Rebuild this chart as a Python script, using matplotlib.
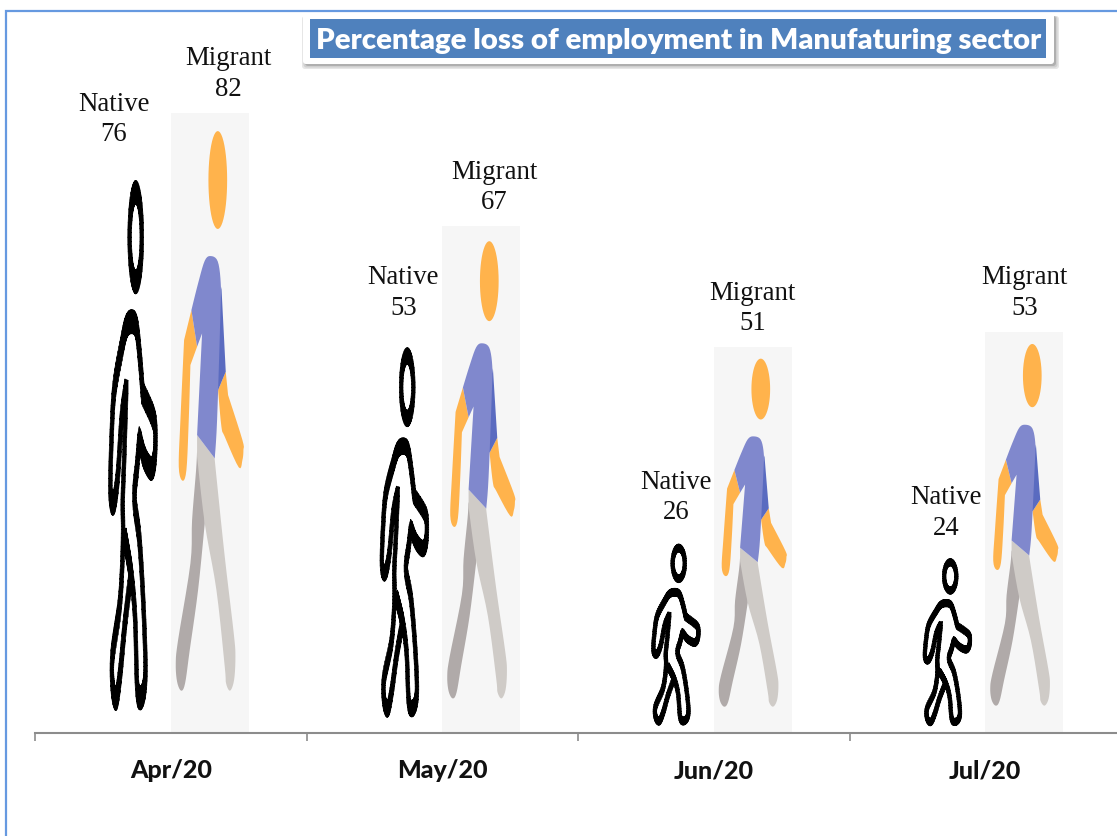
import numpy as np
import matplotlib
matplotlib.use("Agg")
import matplotlib.pyplot as plt
from matplotlib.path import Path
from matplotlib.patches import PathPatch, Rectangle, FancyBboxPatch

# ---- data ----
months = ["Apr/20", "May/20", "Jun/20", "Jul/20"]
native = [76, 53, 26, 24]
migrant = [82, 67, 51, 53]
native_label_dx = [-18, 0, 1, 0]
migrant_label_dx = [19, 13, 0, 0]
title = "Percentage loss of employment in Manufaturing sector"

# ---- figure ----
W, H = 1117, 836
fig = plt.figure(figsize=(W / 100, H / 100), dpi=100, facecolor="white")
base_px, left_px, group_px = 733, 35, 271.5
ax = fig.add_axes([left_px / W, (H - base_px) / H, 4 * group_px / W, base_px / H])
ax.patch.set_alpha(0)
ax.set_xlim(-0.5, 3.5)
ax.set_ylim(0, base_px / 7.56)
for s in ["top", "left", "right"]:
    ax.spines[s].set_visible(False)
ax.spines["bottom"].set_color("#8c8c8c")
ax.spines["bottom"].set_linewidth(1.5)
ax.set_yticks([])
ax.set_xticks(np.arange(len(months)))
ax.set_xticklabels(months, fontfamily="Lato", fontweight="black", fontsize=18, color="#111111")
ax.tick_params(axis="x", which="major", length=0, pad=19)
ax.set_xticks(np.arange(len(months) + 1) - 0.5, minor=True)
ax.tick_params(axis="x", which="minor", length=6, width=1.2, color="#8c8c8c")

bar_w = 78 / group_px


# ---- pictogram templates, in unit space of one bar (u across, v up) ----
def nat(zx, zy):
    # traced on a grid where the bar spans 234 x 591
    return ((zx + 15) / 234, (609 - zy) / 591)


def mig(zx, zy):
    # traced on a grid where the bar spans 234 x 1860
    return ((zx - 243) / 234, (1899 - zy) / 1860)


# a repeated point is a sharp corner of the smoothed outline
NATIVE_BODY = [nat(*p) for p in [
    (100, 186), (116, 192), (127, 225), (135, 260), (135, 260), (168, 286), (173, 306), (170, 328), (160, 337),
    (140, 326), (125, 306), (125, 306), (118, 335), (110, 368), (125, 410), (136, 470), (143, 535),
    (140, 562), (128, 573), (118, 560), (112, 490), (100, 445), (80, 405), (80, 405),
    (100, 445), (100, 445), (82, 495), (68, 545), (56, 573), (45, 562), (44, 530), (65, 480), (73, 440), (76, 400),
    (75, 370), (80, 320), (86, 252), (86, 252), (72, 285), (60, 345), (48, 372), (38, 360), (42, 300), (50, 255),
    (72, 212), (85, 192),
]]
NATIVE_HEAD = (0.551, 0.863, 0.078, 0.078)
STROKE = (0.024, 0.021)

MIG_HEAD = (0.603, 0.892, 0.120, 0.079)
ARM_L = [mig(*p) for p in [(305, 630), (305, 630), (283, 720), (283, 720), (272, 960), (267, 1100), (278, 1142),
                           (290, 1110), (297, 960), (302, 795), (302, 795), (322, 740), (322, 740)]]
ARM_R = [mig(*p) for p in [(408, 815), (408, 815), (385, 870), (385, 870), (395, 980), (405, 1010), (447, 1102),
                           (458, 1080), (461, 1050), (458, 1020), (415, 885), (415, 885)]]
TORSO_BACK = [mig(*p) for p in [(395, 560), (408, 815), (385, 870), (360, 800)]]
TORSO = [mig(*p) for p in [(363, 468), (345, 482), (325, 550), (305, 630), (305, 630), (322, 740), (322, 740),
                           (337, 700), (337, 700), (322, 1005), (322, 1005), (375, 1075), (375, 1075),
                           (382, 960), (392, 640), (393, 550), (384, 484)]]
LEG_BACK = [mig(*p) for p in [(322, 1050), (322, 1050), (319, 1110), (307, 1260), (302, 1390), (265, 1620), (258, 1690),
                              (262, 1745), (274, 1772), (286, 1750), (300, 1650), (325, 1470),
                              (345, 1270), (345, 1270), (345, 1180), (345, 1180)]]
LEG_FRONT = [mig(*p) for p in [(322, 1005), (322, 1005), (375, 1075), (375, 1075), (378, 1110), (405, 1370),
                               (432, 1600), (437, 1670), (433, 1740), (421, 1772), (409, 1750), (405, 1700),
                               (380, 1470), (345, 1270), (322, 1070), (322, 1070)]]


def smooth(points, n=8):
    """Closed Catmull-Rom resampling of a traced template outline."""
    p = np.asarray(points, float)
    out = []
    for i in range(len(p)):
        p0, p1, p2, p3 = p[i - 1], p[i], p[(i + 1) % len(p)], p[(i + 2) % len(p)]
        if np.allclose(p1, p2):
            continue
        for t in np.linspace(0, 1, n, endpoint=False):
            out.append(0.5 * (2 * p1 + (p2 - p0) * t + (2 * p0 - 5 * p1 + 4 * p2 - p3) * t ** 2
                              + (3 * p1 - p0 - 3 * p2 + p3) * t ** 3))
    return np.array(out)


def ellipse(cu, cv, ru, rv, n=48):
    a = np.linspace(0, 2 * np.pi, n, endpoint=False)
    return np.column_stack([cu + ru * np.cos(a), cv + rv * np.sin(a)])


def to_data(uv, x0, value):
    return np.column_stack([x0 + uv[:, 0] * bar_w, uv[:, 1] * value])


def fill(uv, x0, value, color, z=3):
    xy = to_data(np.asarray(uv, float), x0, value)
    ax.fill(xy[:, 0], xy[:, 1], color=color, lw=0, zorder=z)


def ring(uv, x0, value, color="black", z=3):
    """Closed outline stroked in bar-unit space, so it stretches with the bar."""
    d = np.roll(uv, -1, axis=0) - np.roll(uv, 1, axis=0)
    d = d / np.maximum(np.hypot(d[:, 0], d[:, 1]), 1e-9)[:, None]
    nrm = np.column_stack([-d[:, 1], d[:, 0]]) * np.array(STROKE)
    a, b = uv + nrm, uv - nrm
    verts, codes = [], []
    for i in range(len(uv)):
        j = (i + 1) % len(uv)
        quad = np.array([a[i], a[j], b[j], b[i], a[i]])
        # consistent winding so that overlapping quads merge
        s = np.sum(quad[:-1, 0] * quad[1:, 1] - quad[1:, 0] * quad[:-1, 1])
        if s < 0:
            quad = quad[::-1]
        verts.extend(to_data(quad, x0, value))
        codes.extend([Path.MOVETO, Path.LINETO, Path.LINETO, Path.LINETO, Path.CLOSEPOLY])
    ax.add_patch(PathPatch(Path(verts, codes), facecolor=color, edgecolor=color, lw=0.4, zorder=z))


def draw_native(x0, value):
    ring(smooth(NATIVE_BODY), x0, value)
    ring(ellipse(*NATIVE_HEAD), x0, value)


def draw_migrant(x0, value):
    fill(ellipse(*MIG_HEAD), x0, value, "#FFB34C")
    fill(smooth(LEG_BACK, 5), x0, value, "#B0AAA9", 3)
    fill(smooth(LEG_FRONT, 5), x0, value, "#CFCBC7", 4)
    fill(smooth(ARM_L, 5), x0, value, "#FFB34C", 3)
    fill(smooth(ARM_R, 5), x0, value, "#FFB34C", 3)
    fill(TORSO_BACK, x0, value, "#5A6BC0", 4)
    fill(smooth(TORSO, 5), x0, value, "#8088CD", 5)


# ---- marks ----
x = np.arange(len(months))
ax.bar(x - bar_w / 2, native, bar_w, color="none", lw=0)
ax.bar(x + bar_w / 2, migrant, bar_w, color="#F6F6F6", lw=0, zorder=1)
label_style = dict(ha="center", va="bottom", fontfamily="Liberation Serif", fontsize=19.3,
                   color="#111111", textcoords="offset pixels", linespacing=1.31, zorder=6)
for i in range(len(months)):
    draw_native(x[i] - bar_w, native[i])
    draw_migrant(x[i], migrant[i])
    ax.annotate(f"Native\n{native[i]}", (x[i] - bar_w / 2, native[i]),
                xytext=(native_label_dx[i], 11), **label_style)
    ax.annotate(f"Migrant\n{migrant[i]}", (x[i] + bar_w / 2, migrant[i]),
                xytext=(migrant_label_dx[i], 11), **label_style)


# ---- frame and title box, in figure pixels ----
def px_rect(x0, y0, x1, y1):
    return (x0 / W, 1 - y1 / H), (x1 - x0) / W, (y1 - y0) / H


fig.add_artist(Rectangle(*px_rect(6, 11, 1135, 900), transform=fig.transFigure, fill=False,
                         edgecolor="#6699E0", lw=1.6, zorder=0))


def px_round(x0, y0, x1, y1, **kw):
    p = FancyBboxPatch((x0 + 3, H - y1 + 3), x1 - x0 - 6, y1 - y0 - 6,
                       boxstyle="round,pad=3,rounding_size=3", transform=None, **kw)
    fig.add_artist(p)


for grow, col in [(4, "#E6E6E6"), (2.5, "#CFCFCF"), (1, "#AFAFAF")]:
    px_round(303 - grow + 3, 16, 1055 + grow, 65 + grow, fc=col, lw=0, zorder=1)
px_round(303, 13, 1054, 64, fc="white", lw=0, zorder=2)
fig.add_artist(Rectangle(*px_rect(310, 19, 1046, 58), transform=fig.transFigure, fc="#4F81BD", lw=0, zorder=3))
fig.text(678.5 / W, 1 - 41.5 / H, title, ha="center", va="center", color="white",
         fontfamily="Lato", fontweight="heavy", fontsize=21.15, zorder=4)

fig.savefig("out.png", dpi=100)
